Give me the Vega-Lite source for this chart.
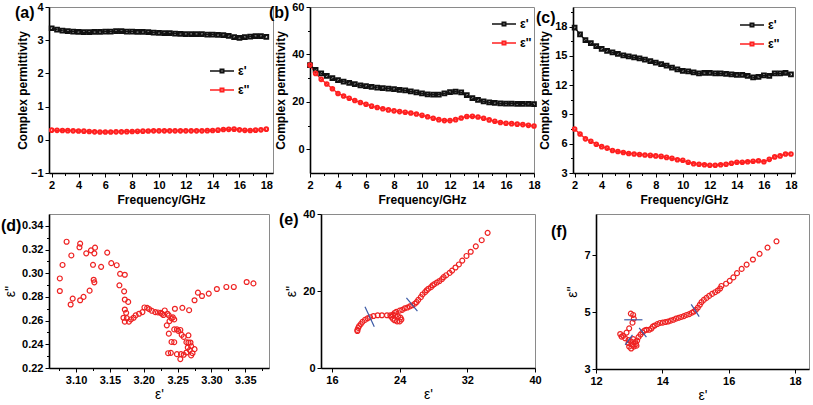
{
  "$schema": "https://vega.github.io/schema/vega-lite/v6.json",
  "padding": {"left": 0, "top": 0, "right": 0, "bottom": 0},
  "background": "white",
  "config": {
    "font": "Liberation Sans",
    "view": {"stroke": "#8a8a8a", "strokeWidth": 1},
    "axis": {"labelFont": "Liberation Sans", "labelFontWeight": "bold", "labelFontSize": 11, "labelColor": "black", "titleFont": "Liberation Sans", "titleFontWeight": "bold", "titleFontSize": 12, "titleColor": "black", "domainColor": "black", "domainWidth": 1.6, "tickColor": "black", "tickWidth": 1, "grid": false, "labelPadding": 2, "titlePadding": 4, "labelOverlap": false, "labelBound": false, "labelFlush": false},
    "title": {"font": "Liberation Sans", "fontWeight": "bold", "fontSize": 16, "color": "black"},
    "legend": {"labelFont": "Liberation Sans", "labelFontWeight": "bold", "labelFontSize": 12, "labelColor": "black", "symbolType": "M-1,0H1M-0.15,-0.15H0.15V0.15H-0.15Z", "symbolSize": 576, "symbolStrokeWidth": 1.4, "labelOffset": 3}
  },
  "datasets": {
    "a": [
      {"f":2.0,"e1":3.36,"e2":0.29},{"f":2.4,"e1":3.32,"e2":0.285},{"f":2.8,"e1":3.29,"e2":0.28},{"f":3.2,"e1":3.27,"e2":0.275},{"f":3.6,"e1":3.26,"e2":0.27},{"f":4.0,"e1":3.25,"e2":0.265},{"f":4.4,"e1":3.24,"e2":0.26},{"f":4.8,"e1":3.24,"e2":0.25},{"f":5.2,"e1":3.25,"e2":0.24},{"f":5.6,"e1":3.25,"e2":0.235},{"f":6.0,"e1":3.26,"e2":0.235},{"f":6.4,"e1":3.26,"e2":0.235},{"f":6.8,"e1":3.27,"e2":0.24},{"f":7.2,"e1":3.27,"e2":0.24},{"f":7.6,"e1":3.26,"e2":0.245},{"f":8.0,"e1":3.26,"e2":0.25},{"f":8.4,"e1":3.25,"e2":0.255},{"f":8.8,"e1":3.25,"e2":0.26},{"f":9.2,"e1":3.24,"e2":0.265},{"f":9.6,"e1":3.23,"e2":0.27},{"f":10.0,"e1":3.22,"e2":0.27},{"f":10.4,"e1":3.21,"e2":0.27},{"f":10.8,"e1":3.21,"e2":0.27},{"f":11.2,"e1":3.20,"e2":0.27},{"f":11.6,"e1":3.19,"e2":0.27},{"f":12.0,"e1":3.18,"e2":0.27},{"f":12.4,"e1":3.18,"e2":0.27},{"f":12.8,"e1":3.18,"e2":0.27},{"f":13.2,"e1":3.18,"e2":0.27},{"f":13.6,"e1":3.17,"e2":0.275},{"f":14.0,"e1":3.17,"e2":0.28},{"f":14.4,"e1":3.16,"e2":0.29},{"f":14.8,"e1":3.15,"e2":0.31},{"f":15.2,"e1":3.13,"e2":0.315},{"f":15.6,"e1":3.09,"e2":0.32},{"f":16.0,"e1":3.07,"e2":0.30},{"f":16.4,"e1":3.09,"e2":0.285},{"f":16.8,"e1":3.11,"e2":0.28},{"f":17.2,"e1":3.12,"e2":0.29},{"f":17.6,"e1":3.12,"e2":0.30},{"f":18.0,"e1":3.10,"e2":0.32}
    ],
    "b": [
      {"f":2.0,"e1":35.5,"e2":35.5},{"f":2.4,"e1":33.5,"e2":32},{"f":2.8,"e1":32,"e2":29.5},{"f":3.2,"e1":31,"e2":27.5},{"f":3.6,"e1":30,"e2":25.5},{"f":4.0,"e1":29.2,"e2":23.5},{"f":4.4,"e1":28.5,"e2":22.5},{"f":4.8,"e1":28,"e2":21.5},{"f":5.2,"e1":27.5,"e2":20.6},{"f":5.6,"e1":27,"e2":19.7},{"f":6.0,"e1":26.6,"e2":19},{"f":6.4,"e1":26.3,"e2":18.2},{"f":6.8,"e1":26,"e2":17.6},{"f":7.2,"e1":25.8,"e2":17.1},{"f":7.6,"e1":25.6,"e2":16.6},{"f":8.0,"e1":25.4,"e2":16.2},{"f":8.4,"e1":25.1,"e2":15.9},{"f":8.8,"e1":24.8,"e2":15.6},{"f":9.2,"e1":24.4,"e2":15.3},{"f":9.6,"e1":24,"e2":14.9},{"f":10.0,"e1":23.6,"e2":14.3},{"f":10.4,"e1":23.2,"e2":13.7},{"f":10.8,"e1":23,"e2":13.1},{"f":11.2,"e1":23.1,"e2":12.5},{"f":11.6,"e1":23.6,"e2":12.1},{"f":12.0,"e1":24.1,"e2":12.1},{"f":12.4,"e1":24.3,"e2":12.5},{"f":12.8,"e1":24,"e2":13.2},{"f":13.2,"e1":22.8,"e2":13.8},{"f":13.6,"e1":21.6,"e2":13.9},{"f":14.0,"e1":20.8,"e2":13.6},{"f":14.4,"e1":20.2,"e2":13.1},{"f":14.8,"e1":19.8,"e2":12.4},{"f":15.2,"e1":19.6,"e2":11.8},{"f":15.6,"e1":19.4,"e2":11.3},{"f":16.0,"e1":19.3,"e2":11},{"f":16.4,"e1":19.3,"e2":10.8},{"f":16.8,"e1":19.2,"e2":10.6},{"f":17.2,"e1":19.2,"e2":10.4},{"f":17.6,"e1":19.1,"e2":10.1},{"f":18.0,"e1":19.0,"e2":9.8}
    ],
    "c": [
      {"f":2.0,"e1":17.9,"e2":7.5},{"f":2.4,"e1":17.2,"e2":7.0},{"f":2.8,"e1":16.6,"e2":6.5},{"f":3.2,"e1":16.3,"e2":6.25},{"f":3.6,"e1":16.0,"e2":5.95},{"f":4.0,"e1":15.7,"e2":5.7},{"f":4.4,"e1":15.5,"e2":5.55},{"f":4.8,"e1":15.35,"e2":5.3},{"f":5.2,"e1":15.2,"e2":5.2},{"f":5.6,"e1":15.05,"e2":5.1},{"f":6.0,"e1":14.95,"e2":5.0},{"f":6.4,"e1":14.85,"e2":4.95},{"f":6.8,"e1":14.75,"e2":4.9},{"f":7.2,"e1":14.6,"e2":4.85},{"f":7.6,"e1":14.45,"e2":4.8},{"f":8.0,"e1":14.3,"e2":4.75},{"f":8.4,"e1":14.15,"e2":4.7},{"f":8.8,"e1":14.0,"e2":4.6},{"f":9.2,"e1":13.8,"e2":4.5},{"f":9.6,"e1":13.6,"e2":4.35},{"f":10.0,"e1":13.45,"e2":4.3},{"f":10.4,"e1":13.4,"e2":4.1},{"f":10.8,"e1":13.3,"e2":3.95},{"f":11.2,"e1":13.2,"e2":3.9},{"f":11.6,"e1":13.25,"e2":3.85},{"f":12.0,"e1":13.25,"e2":3.8},{"f":12.4,"e1":13.2,"e2":3.8},{"f":12.8,"e1":13.2,"e2":3.85},{"f":13.2,"e1":13.15,"e2":3.9},{"f":13.6,"e1":13.1,"e2":4.0},{"f":14.0,"e1":13.05,"e2":4.1},{"f":14.4,"e1":13.05,"e2":4.1},{"f":14.8,"e1":12.95,"e2":4.15},{"f":15.2,"e1":12.8,"e2":4.2},{"f":15.6,"e1":12.85,"e2":4.25},{"f":16.0,"e1":13.0,"e2":4.15},{"f":16.4,"e1":12.95,"e2":4.4},{"f":16.8,"e1":13.2,"e2":4.65},{"f":17.2,"e1":13.2,"e2":4.75},{"f":17.6,"e1":13.25,"e2":4.95},{"f":18.0,"e1":13.1,"e2":4.95}
    ],
    "d": [
      {"x":3.076,"y":0.2956},{"x":3.076,"y":0.285},{"x":3.080,"y":0.307},{"x":3.086,"y":0.3266},{"x":3.093,"y":0.315},{"x":3.092,"y":0.2736},{"x":3.095,"y":0.2786},{"x":3.105,"y":0.3219},{"x":3.106,"y":0.325},{"x":3.106,"y":0.2772},{"x":3.111,"y":0.28},{"x":3.115,"y":0.3168},{"x":3.120,"y":0.2853},{"x":3.122,"y":0.3193},{"x":3.125,"y":0.3071},{"x":3.126,"y":0.2945},{"x":3.127,"y":0.2923},{"x":3.127,"y":0.3168},{"x":3.128,"y":0.3216},{"x":3.137,"y":0.3054},{"x":3.146,"y":0.3174},{"x":3.152,"y":0.3085},{"x":3.160,"y":0.3068},{"x":3.165,"y":0.2995},{"x":3.164,"y":0.2898},{"x":3.172,"y":0.2987},{"x":3.171,"y":0.2847},{"x":3.172,"y":0.2778},{"x":3.172,"y":0.2694},{"x":3.174,"y":0.2666},{"x":3.177,"y":0.2758},{"x":3.170,"y":0.2624},{"x":3.172,"y":0.2591},{"x":3.175,"y":0.2621},{"x":3.178,"y":0.2591},{"x":3.181,"y":0.261},{"x":3.185,"y":0.2624},{"x":3.188,"y":0.2644},{"x":3.193,"y":0.2658},{"x":3.198,"y":0.2672},{"x":3.201,"y":0.2711},{"x":3.205,"y":0.2708},{"x":3.208,"y":0.2697},{"x":3.212,"y":0.2683},{"x":3.217,"y":0.2672},{"x":3.221,"y":0.2669},{"x":3.225,"y":0.2666},{"x":3.227,"y":0.2658},{"x":3.231,"y":0.2686},{"x":3.229,"y":0.2647},{"x":3.235,"y":0.2658},{"x":3.237,"y":0.2644},{"x":3.234,"y":0.256},{"x":3.238,"y":0.2596},{"x":3.241,"y":0.2619},{"x":3.245,"y":0.261},{"x":3.243,"y":0.2627},{"x":3.246,"y":0.27},{"x":3.237,"y":0.249},{"x":3.241,"y":0.242},{"x":3.245,"y":0.2418},{"x":3.245,"y":0.2526},{"x":3.249,"y":0.2526},{"x":3.251,"y":0.2513},{"x":3.254,"y":0.2521},{"x":3.256,"y":0.248},{"x":3.259,"y":0.2462},{"x":3.257,"y":0.2708},{"x":3.255,"y":0.2317},{"x":3.249,"y":0.2317},{"x":3.236,"y":0.2325},{"x":3.240,"y":0.2328},{"x":3.254,"y":0.2275},{"x":3.259,"y":0.2312},{"x":3.263,"y":0.2331},{"x":3.265,"y":0.2373},{"x":3.263,"y":0.2418},{"x":3.266,"y":0.2476},{"x":3.266,"y":0.2415},{"x":3.269,"y":0.2415},{"x":3.268,"y":0.2351},{"x":3.270,"y":0.2306},{"x":3.270,"y":0.2384},{"x":3.272,"y":0.2325},{"x":3.275,"y":0.2359},{"x":3.267,"y":0.2688},{"x":3.275,"y":0.2772},{"x":3.280,"y":0.2836},{"x":3.286,"y":0.2808},{"x":3.296,"y":0.2828},{"x":3.308,"y":0.2867},{"x":3.322,"y":0.2884},{"x":3.333,"y":0.2884},{"x":3.352,"y":0.2926},{"x":3.362,"y":0.2914}
    ],
    "e": [
      {"x":34.4,"y":35.1},{"x":33.7,"y":33.2},{"x":33.0,"y":31.6},{"x":32.4,"y":30.2},{"x":31.9,"y":29.1},{"x":31.4,"y":27.9},{"x":31.0,"y":26.9},{"x":30.6,"y":26.1},{"x":30.2,"y":25.3},{"x":29.9,"y":24.7},{"x":29.5,"y":24.1},{"x":29.2,"y":23.6},{"x":29.0,"y":23.1},{"x":28.7,"y":22.6},{"x":28.4,"y":22.2},{"x":28.1,"y":21.8},{"x":27.9,"y":21.5},{"x":27.7,"y":21.0},{"x":27.4,"y":20.6},{"x":27.2,"y":20.2},{"x":27.0,"y":19.7},{"x":26.7,"y":19.1},{"x":26.5,"y":18.4},{"x":26.2,"y":17.7},{"x":26.0,"y":17.1},{"x":25.8,"y":16.7},{"x":25.5,"y":16.3},{"x":25.2,"y":16.0},{"x":24.9,"y":15.7},{"x":24.6,"y":15.5},{"x":24.3,"y":15.1},{"x":24.0,"y":14.9},{"x":23.6,"y":14.6},{"x":23.4,"y":14.3},{"x":23.2,"y":13.8},{"x":23.0,"y":13.3},{"x":23.2,"y":12.8},{"x":23.4,"y":12.4},{"x":23.7,"y":12.1},{"x":24.0,"y":12.1},{"x":24.2,"y":12.6},{"x":24.1,"y":13.1},{"x":23.8,"y":13.4},{"x":23.5,"y":13.7},{"x":22.9,"y":13.7},{"x":22.5,"y":13.7},{"x":21.9,"y":13.7},{"x":21.4,"y":13.7},{"x":20.9,"y":13.5},{"x":20.5,"y":13.2},{"x":20.2,"y":12.9},{"x":19.9,"y":12.5},{"x":19.6,"y":12.0},{"x":19.4,"y":11.4},{"x":19.2,"y":10.9},{"x":19.1,"y":10.4},{"x":19.0,"y":9.9},{"x":19.0,"y":9.6}
    ],
    "f": [
      {"x":17.44,"y":7.49},{"x":17.17,"y":7.27},{"x":16.93,"y":7.05},{"x":16.73,"y":6.85},{"x":16.54,"y":6.67},{"x":16.39,"y":6.52},{"x":16.25,"y":6.37},{"x":16.14,"y":6.22},{"x":16.03,"y":6.10},{"x":15.92,"y":6.00},{"x":15.78,"y":5.92},{"x":15.74,"y":5.83},{"x":15.67,"y":5.76},{"x":15.59,"y":5.70},{"x":15.50,"y":5.64},{"x":15.41,"y":5.57},{"x":15.33,"y":5.50},{"x":15.25,"y":5.43},{"x":15.18,"y":5.35},{"x":15.13,"y":5.26},{"x":15.07,"y":5.16},{"x":15.01,"y":5.08},{"x":14.95,"y":5.02},{"x":14.89,"y":4.98},{"x":14.81,"y":4.93},{"x":14.73,"y":4.90},{"x":14.65,"y":4.86},{"x":14.57,"y":4.83},{"x":14.49,"y":4.80},{"x":14.41,"y":4.77},{"x":14.33,"y":4.73},{"x":14.25,"y":4.70},{"x":14.17,"y":4.67},{"x":14.09,"y":4.65},{"x":14.01,"y":4.63},{"x":13.93,"y":4.62},{"x":13.85,"y":4.58},{"x":13.77,"y":4.53},{"x":13.71,"y":4.49},{"x":13.67,"y":4.42},{"x":13.60,"y":4.38},{"x":13.52,"y":4.38},{"x":13.46,"y":4.35},{"x":13.40,"y":4.29},{"x":13.34,"y":4.21},{"x":13.28,"y":4.12},{"x":13.24,"y":4.00},{"x":13.20,"y":3.88},{"x":13.14,"y":3.79},{"x":13.06,"y":3.72},{"x":13.00,"y":3.79},{"x":12.98,"y":3.91},{"x":13.05,"y":3.97},{"x":13.12,"y":4.05},{"x":13.18,"y":3.95},{"x":13.22,"y":3.82},{"x":13.10,"y":3.85},{"x":13.05,"y":4.95},{"x":13.12,"y":4.90},{"x":13.14,"y":4.77},{"x":13.10,"y":4.63},{"x":13.00,"y":4.43},{"x":12.92,"y":4.28},{"x":12.82,"y":4.17},{"x":12.73,"y":4.23},{"x":12.77,"y":4.14},{"x":12.88,"y":4.08},{"x":12.98,"y":4.02}
    ],
    "arrE": [
      {"x1":19.9,"y1":15.9,"x2":21.0,"y2":10.7},{"x1":24.8,"y1":18.2,"x2":26.1,"y2":14.8}
    ],
    "arrF": [
      {"x1":13.4,"y1":4.73,"x2":12.85,"y2":4.73},{"x1":12.88,"y1":3.85,"x2":13.1,"y2":4.2},{"x1":13.3,"y1":4.45,"x2":13.52,"y2":4.12},{"x1":14.87,"y1":5.27,"x2":15.11,"y2":4.84}
    ]
  },
  "columns": 1,
  "align": "none",
  "spacing": 1,
  "concat": [
    {
      "spacing": -6,
      "resolve": {"scale": {"color": "independent"}, "legend": {"color": "independent"}},
      "hconcat": [
        {
          "width": 224, "height": 166,
          "title": {"text": "(a)", "anchor": "start", "frame": "group", "dx": -34, "offset": -20},
          "data": {"name": "a"},
          "transform": [{"fold": ["e1", "e2"], "as": ["s", "v"]}],
          "encoding": {
            "x": {"field": "f", "type": "quantitative", "scale": {"domain": [1.8, 18.5], "nice": false, "zero": false},
              "axis": {"title": "Frequency/GHz", "values": [2,3,4,5,6,7,8,9,10,11,12,13,14,15,16,17,18], "labelExpr": "datum.value % 2 == 0 ? datum.label : ''", "tickSize": {"condition": {"test": "datum.value % 2 == 0", "value": 4}, "value": 2.5}}},
            "y": {"field": "v", "type": "quantitative", "scale": {"domain": [-1, 4], "nice": false, "zero": false},
              "axis": {"title": "Complex permittivity", "titlePadding": 1, "format": "d", "values": [-1,-0.5,0,0.5,1,1.5,2,2.5,3,3.5,4], "labelExpr": "datum.value % 1 == 0 ? datum.label : ''", "tickSize": {"condition": {"test": "datum.value % 1 == 0", "value": 4}, "value": 2.5}}},
            "color": {"field": "s", "type": "nominal", "scale": {"domain": ["e1", "e2"], "range": ["#111111", "#ff2020"]},
              "legend": {"orient": "none", "legendX": 160, "legendY": 51, "title": null, "labelExpr": "datum.value == 'e1' ? \"ε'\" : \"ε''\"", "rowPadding": -2}}
          },
          "layer": [
            {"mark": {"type": "line", "strokeWidth": 1.3}},
            {"transform": [{"filter": "datum.s == 'e1'"}], "mark": {"type": "point", "shape": "square", "filled": false, "size": 14, "strokeWidth": 2, "opacity": 1}},
            {"transform": [{"filter": "datum.s == 'e2'"}], "mark": {"type": "point", "shape": "circle", "filled": false, "size": 13, "strokeWidth": 2, "opacity": 1}}
          ]
        },
        {
          "width": 224, "height": 166,
          "title": {"text": "(b)", "anchor": "start", "frame": "group", "dx": -41, "offset": -20},
          "data": {"name": "b"},
          "transform": [{"fold": ["e1", "e2"], "as": ["s", "v"]}],
          "encoding": {
            "x": {"field": "f", "type": "quantitative", "scale": {"domain": [2, 18], "nice": false, "zero": false},
              "axis": {"title": "Frequency/GHz", "values": [2,3,4,5,6,7,8,9,10,11,12,13,14,15,16,17,18], "labelExpr": "datum.value % 2 == 0 ? datum.label : ''", "tickSize": {"condition": {"test": "datum.value % 2 == 0", "value": 4}, "value": 2.5}}},
            "y": {"field": "v", "type": "quantitative", "scale": {"domain": [-10, 60], "nice": false, "zero": false},
              "axis": {"title": "Complex permittivity", "values": [0,10,20,30,40,50,60], "labelExpr": "datum.value % 20 == 0 ? datum.label : ''", "tickSize": {"condition": {"test": "datum.value % 20 == 0", "value": 4}, "value": 2.5}}},
            "color": {"field": "s", "type": "nominal", "scale": {"domain": ["e1", "e2"], "range": ["#111111", "#ff2020"]},
              "legend": {"orient": "none", "legendX": 181, "legendY": 4, "title": null, "labelExpr": "datum.value == 'e1' ? \"ε'\" : \"ε''\"", "rowPadding": -5}}
          },
          "layer": [
            {"mark": {"type": "line", "strokeWidth": 1.3}},
            {"transform": [{"filter": "datum.s == 'e1'"}], "mark": {"type": "point", "shape": "square", "filled": false, "size": 14, "strokeWidth": 2, "opacity": 1}},
            {"transform": [{"filter": "datum.s == 'e2'"}], "mark": {"type": "point", "shape": "circle", "filled": false, "size": 13, "strokeWidth": 2, "opacity": 1}}
          ]
        },
        {
          "width": 222, "height": 166,
          "title": {"text": "(c)", "anchor": "start", "frame": "group", "dx": -37, "offset": -20},
          "data": {"name": "c"},
          "transform": [{"fold": ["e1", "e2"], "as": ["s", "v"]}],
          "encoding": {
            "x": {"field": "f", "type": "quantitative", "scale": {"domain": [1.88, 18.3], "nice": false, "zero": false},
              "axis": {"title": "Frequency/GHz", "values": [2,3,4,5,6,7,8,9,10,11,12,13,14,15,16,17,18], "labelExpr": "datum.value % 2 == 0 ? datum.label : ''", "tickSize": {"condition": {"test": "datum.value % 2 == 0", "value": 4}, "value": 2.5}}},
            "y": {"field": "v", "type": "quantitative", "scale": {"domain": [3, 20], "nice": false, "zero": false},
              "axis": {"title": "Complex permittivity", "titlePadding": 3, "format": "d", "values": [3,4.5,6,7.5,9,10.5,12,13.5,15,16.5,18,19.5], "labelExpr": "datum.value % 3 == 0 ? datum.label : ''", "tickSize": {"condition": {"test": "datum.value % 3 == 0", "value": 4}, "value": 2.5}}},
            "color": {"field": "s", "type": "nominal", "scale": {"domain": ["e1", "e2"], "range": ["#111111", "#ff2020"]},
              "legend": {"orient": "none", "legendX": 166, "legendY": 5, "title": null, "labelExpr": "datum.value == 'e1' ? \"ε'\" : \"ε''\"", "rowPadding": -7}}
          },
          "layer": [
            {"mark": {"type": "line", "strokeWidth": 1.3}},
            {"transform": [{"filter": "datum.s == 'e1'"}], "mark": {"type": "point", "shape": "square", "filled": false, "size": 14, "strokeWidth": 2, "opacity": 1}},
            {"transform": [{"filter": "datum.s == 'e2'"}], "mark": {"type": "point", "shape": "circle", "filled": false, "size": 13, "strokeWidth": 2, "opacity": 1}}
          ]
        }
      ]
    },
    {
      "spacing": 8,
      "hconcat": [
        {
          "width": 220, "height": 154,
          "title": {"text": "(d)", "anchor": "start", "frame": "group", "dx": -48, "offset": -20},
          "data": {"name": "d"},
          "mark": {"type": "point", "filled": false, "size": 24, "strokeWidth": 1.2, "color": "#ee2222", "opacity": 1},
          "encoding": {
            "x": {"field": "x", "type": "quantitative", "scale": {"domain": [3.06, 3.385], "nice": false, "zero": false},
              "axis": {"title": "ε'", "titleFontWeight": "normal", "titleFontSize": 14, "titlePadding": 2, "format": ".2f", "values": [3.075,3.1,3.125,3.15,3.175,3.2,3.225,3.25,3.275,3.3,3.325,3.35,3.375], "labelExpr": "abs(datum.value*20 - round(datum.value*20)) < 0.001 ? datum.label : ''", "tickSize": {"condition": {"test": "abs(datum.value*20 - round(datum.value*20)) < 0.001", "value": 4}, "value": 2.5}}},
            "y": {"field": "y", "type": "quantitative", "scale": {"domain": [0.22, 0.35], "nice": false, "zero": false},
              "axis": {"title": "ε''", "titleFontWeight": "normal", "titleFontSize": 14, "format": ".2f", "values": [0.22,0.23,0.24,0.25,0.26,0.27,0.28,0.29,0.3,0.31,0.32,0.33,0.34], "labelExpr": "abs(datum.value*50 - round(datum.value*50)) < 0.001 ? datum.label : ''", "tickSize": {"condition": {"test": "abs(datum.value*50 - round(datum.value*50)) < 0.001", "value": 4}, "value": 2.5}}}
          }
        },
        {
          "width": 214, "height": 154,
          "title": {"text": "(e)", "anchor": "start", "frame": "group", "dx": -42, "offset": -20},
          "layer": [
            {
              "data": {"name": "e"},
              "mark": {"type": "point", "filled": false, "size": 24, "strokeWidth": 1.2, "color": "#ee2222", "opacity": 1},
              "encoding": {
                "x": {"field": "x", "type": "quantitative", "scale": {"domain": [14.7, 40], "nice": false, "zero": false},
                  "axis": {"title": "ε'", "titleFontWeight": "normal", "titleFontSize": 14, "titlePadding": 2, "values": [16,20,24,28,32,36,40], "labelExpr": "datum.value % 8 == 0 ? datum.label : ''", "tickSize": {"condition": {"test": "datum.value % 8 == 0", "value": 4}, "value": 2.5}}},
                "y": {"field": "y", "type": "quantitative", "scale": {"domain": [0, 40], "nice": false, "zero": false},
                  "axis": {"title": "ε''", "titleFontWeight": "normal", "titleFontSize": 14, "values": [0,5,10,15,20,25,30,35,40], "labelExpr": "datum.value % 10 == 0 ? datum.label : ''", "tickSize": {"condition": {"test": "datum.value % 10 == 0", "value": 4}, "value": 2.5}}}
              }
            },
            {
              "data": {"name": "arrE"},
              "mark": {"type": "rule", "color": "#3b5aa6", "strokeWidth": 1.2},
              "encoding": {
                "x": {"field": "x1", "type": "quantitative"},
                "y": {"field": "y1", "type": "quantitative"},
                "x2": {"field": "x2"},
                "y2": {"field": "y2"}
              }
            }
          ]
        },
        {
          "width": 213, "height": 155,
          "title": {"text": "(f)", "anchor": "start", "frame": "group", "dx": -45, "offset": -26},
          "layer": [
            {
              "data": {"name": "f"},
              "mark": {"type": "point", "filled": false, "size": 24, "strokeWidth": 1.2, "color": "#ee2222", "opacity": 1},
              "encoding": {
                "x": {"field": "x", "type": "quantitative", "scale": {"domain": [12, 18.42], "nice": false, "zero": false},
                  "axis": {"title": "ε'", "titleFontWeight": "normal", "titleFontSize": 14, "titlePadding": 2, "values": [12,12.5,13,13.5,14,14.5,15,15.5,16,16.5,17,17.5,18], "labelExpr": "datum.value % 1 == 0 ? datum.label : ''", "tickSize": {"condition": {"test": "datum.value % 1 == 0", "value": 4}, "value": 2.5}}},
                "y": {"field": "y", "type": "quantitative", "scale": {"domain": [3, 8.45], "nice": false, "zero": false},
                  "axis": {"title": "ε''", "titleFontWeight": "normal", "titleFontSize": 14, "format": "d", "values": [3,3.5,4,4.5,5,5.5,6,6.5,7,7.5,8], "labelExpr": "datum.value % 1 == 0 ? datum.label : ''", "tickSize": {"condition": {"test": "datum.value % 1 == 0", "value": 4}, "value": 2.5}}}
              }
            },
            {
              "data": {"name": "arrF"},
              "mark": {"type": "rule", "color": "#3b5aa6", "strokeWidth": 1.2},
              "encoding": {
                "x": {"field": "x1", "type": "quantitative"},
                "y": {"field": "y1", "type": "quantitative"},
                "x2": {"field": "x2"},
                "y2": {"field": "y2"}
              }
            }
          ]
        }
      ]
    }
  ]
}
